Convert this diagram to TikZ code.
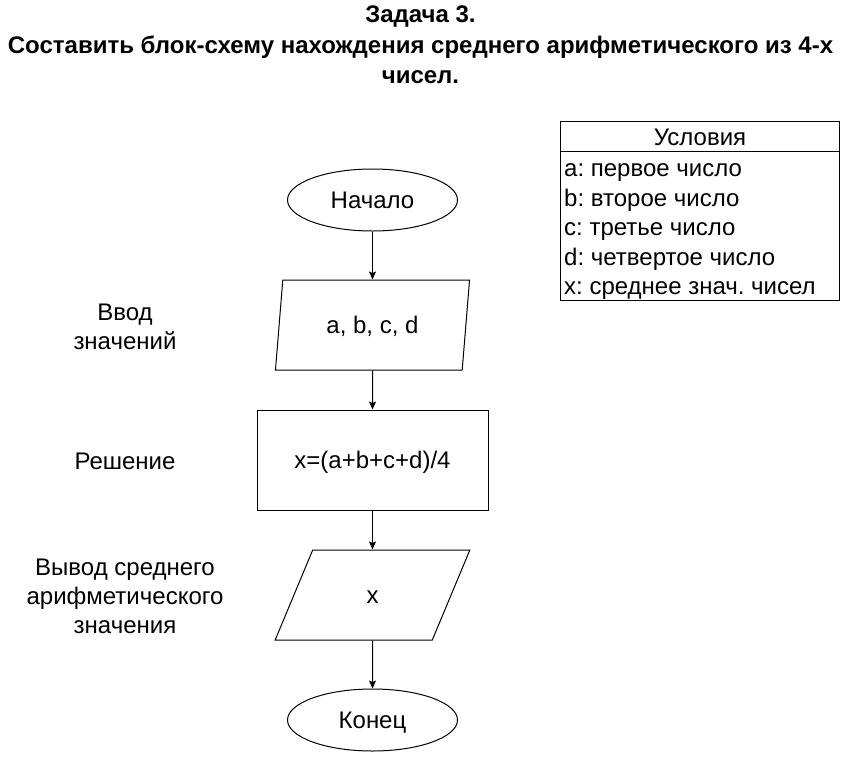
\documentclass[tikz,border=0pt]{standalone}
\usepackage{fontspec}
\setmainfont{Liberation Sans}
\usetikzlibrary{shapes.geometric,arrows.meta}
\frenchspacing
\begin{document}
\begin{tikzpicture}[x=1pt,y=-1pt,
  bodyfont/.style={font=\fontsize{24}{29}\selectfont},
  txt/.style={bodyfont, inner sep=0pt, text height=17pt, text depth=0pt},
  termbox/.style={ellipse, draw, line width=1pt, minimum width=170pt, minimum height=62pt, inner sep=0pt, bodyfont, text height=17pt, text depth=0pt},
  iobox/.style={trapezium, trapezium left angle=77.5, trapezium right angle=102.5, trapezium stretches=true, draw, line width=1pt, minimum width=195pt, minimum height=90pt, inner sep=0pt, bodyfont, text height=17pt, text depth=0pt},
  procbox/.style={rectangle, draw, line width=1pt, minimum width=231pt, minimum height=100pt, inner sep=0pt, bodyfont, text height=17pt, text depth=0pt},
  flow/.style={draw, line width=1pt, -{Stealth[length=8pt,width=7pt,inset=1.5pt]}},
  sidelabel/.style={bodyfont, inner sep=0pt, align=center}
]
\useasboundingbox (0,0) rectangle (841,761);
\fill[white] (0,0) rectangle (841,761);

% title
\node[font=\bfseries\fontsize{24}{30.5}\selectfont, align=center, inner sep=0pt] (title) at (420.5,45)
  {Задача 3.\\Составить блок-схему нахождения среднего арифметического из 4-х\\чисел.};

% flowchart
\node[termbox] (start) at (372.5,200) {Начало};
\node[iobox] (input) at (372.5,325) {a, b, c, d};
\node[procbox] (calc) at (372.5,460) {x=(a+b+c+d)/4};
\node[iobox] (output) at (372.5,595) {x};
\node[termbox] (stop) at (372.5,720) {Конец};

\draw[flow] (start) -- (input);
\draw[flow] (input) -- (calc);
\draw[flow] (calc) -- (output);
\draw[flow] (output) -- (stop);

% side labels
\node[sidelabel] (lin) at (125,327) {Ввод\\значений};
\node[sidelabel] (lcalc) at (125,461) {Решение};
\node[sidelabel] (lout) at (125,596) {Вывод среднего\\арифметического\\значения};

% conditions table
\draw[line width=1pt] (560.5,121) rectangle (839.5,300);
\draw[line width=1pt] (560.5,151.5) -- (839.5,151.5);
\node[txt] (thead) at (700,137) {Условия};
\node[txt, anchor=west] (ta) at (564,168) {a: первое число};
\node[txt, anchor=west] (tb) at (564,197.5) {b: второе число};
\node[txt, anchor=west] (tc) at (564,227) {c: третье число};
\node[txt, anchor=west] (td) at (564,256.5) {d: четвертое число};
\node[txt, anchor=west] (tx) at (564,286) {x: среднее знач. чисел};
\end{tikzpicture}
\end{document}
